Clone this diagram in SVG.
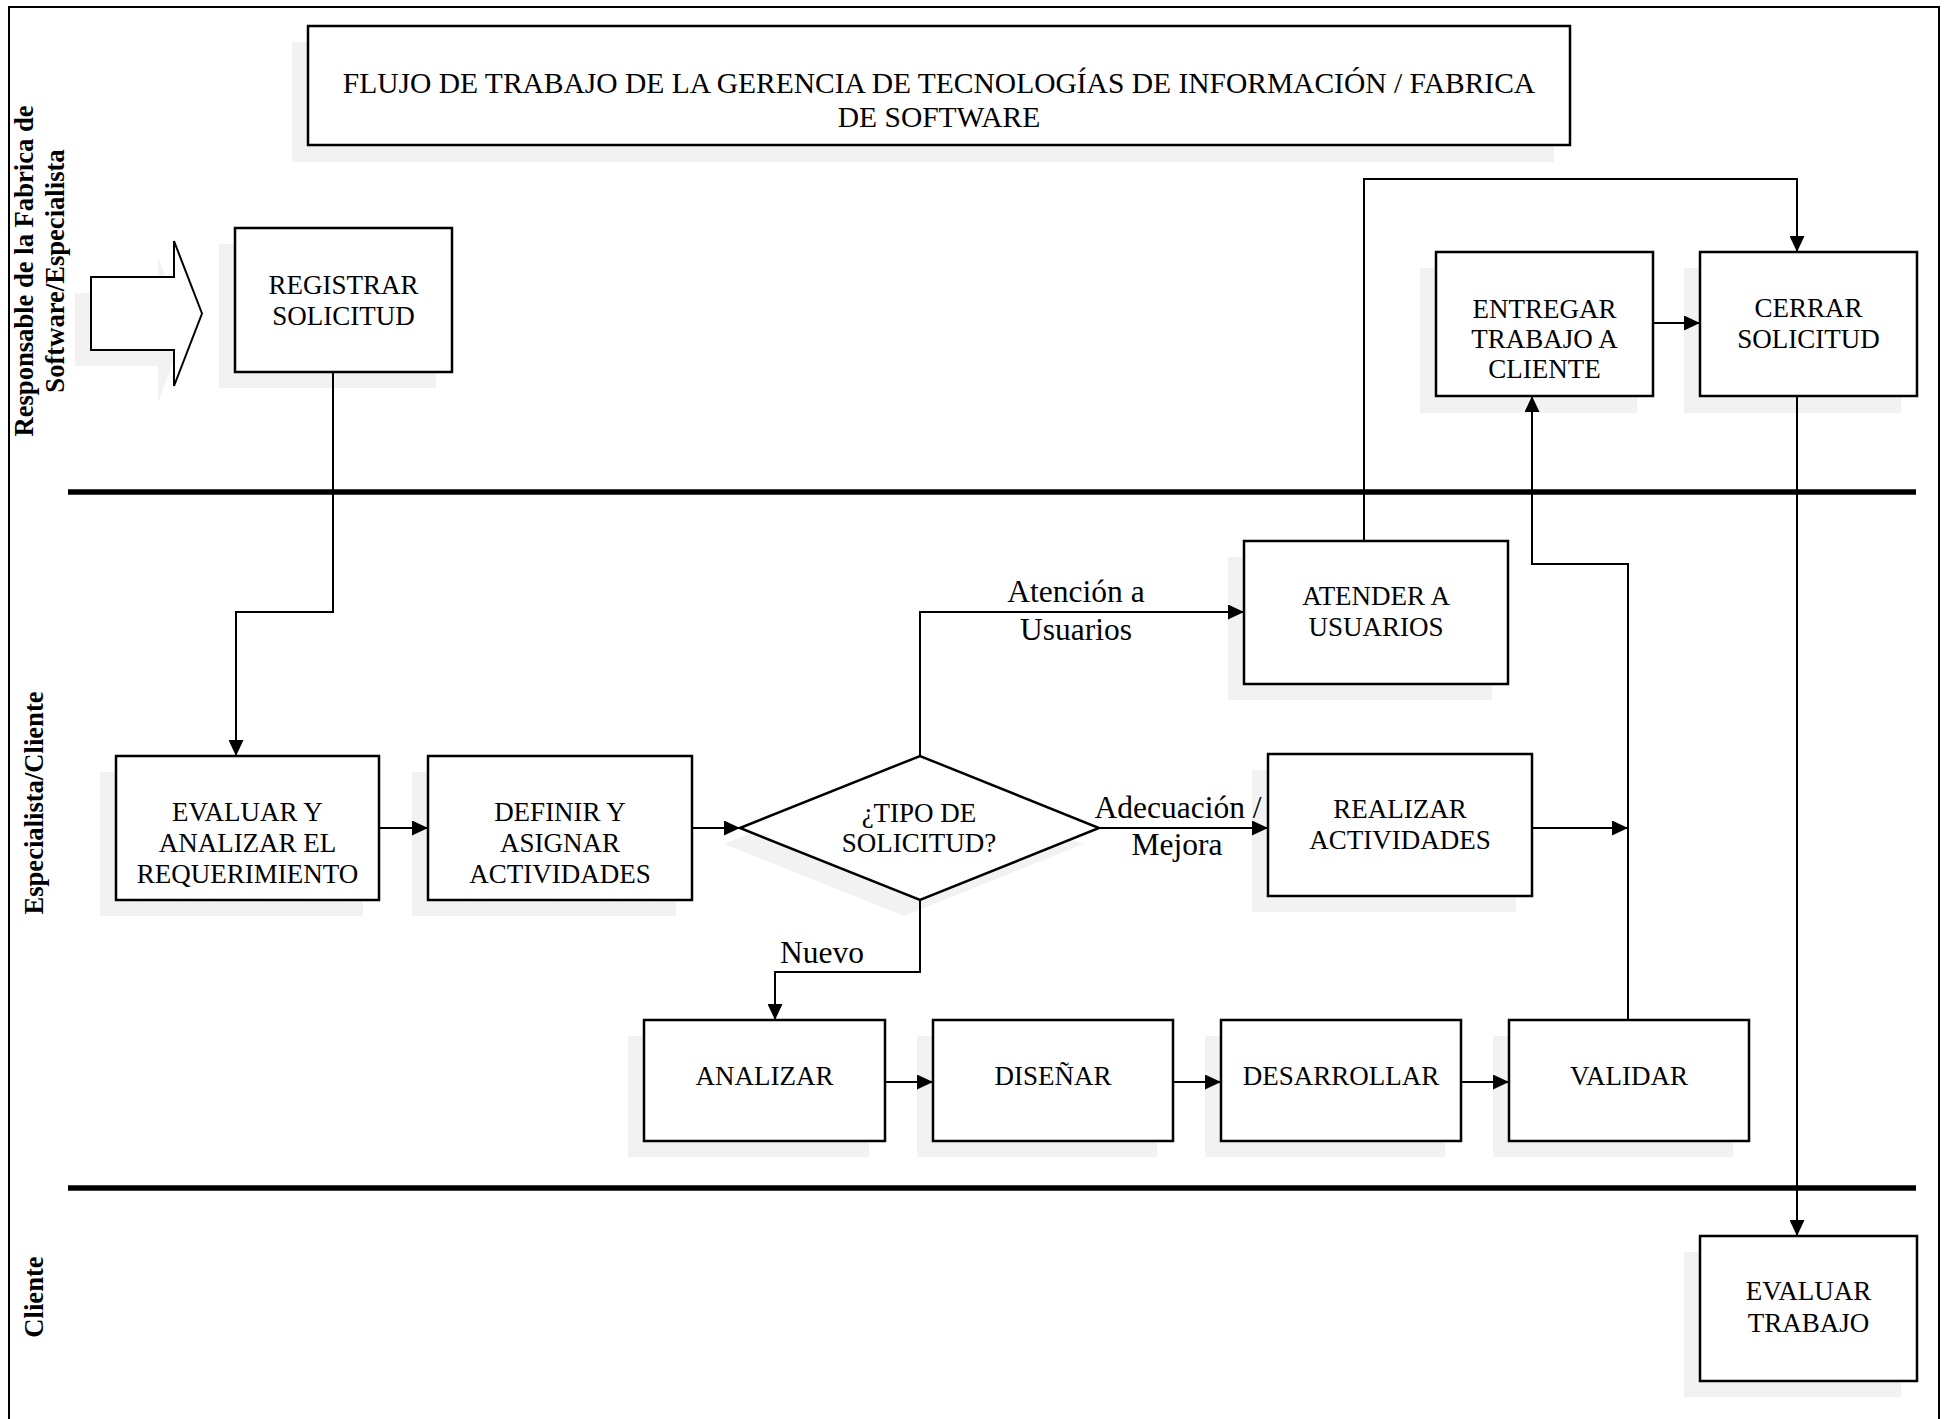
<svg xmlns="http://www.w3.org/2000/svg" width="1944" height="1419" viewBox="0 0 1944 1419">
<style>
.bg{fill:#fff}
.border{fill:none;stroke:#000;stroke-width:2}
.shadow{fill:#f2f2f2;stroke:none}
.box{fill:#fff;stroke:#000;stroke-width:2.5}
.t{font-family:"Liberation Serif","Times New Roman",serif;font-size:27px;text-anchor:middle;fill:#000}
.title{font-size:29.5px}
.lbl{font-size:31.5px}
.lane{font-family:"Liberation Serif","Times New Roman",serif;font-size:26.6px;font-weight:bold;text-anchor:middle;fill:#000}
.div{stroke:#000;stroke-width:5.5}
.conn{fill:none;stroke:#000;stroke-width:2}
.arr{marker-end:url(#ah)}
</style>
<defs>
<marker id="ah" markerUnits="userSpaceOnUse" markerWidth="16" markerHeight="15" refX="16" refY="7.5" orient="auto">
<path d="M0,0 L16,7.5 L0,15 z" fill="#000"/>
</marker>
</defs>
<rect class="bg" x="0" y="0" width="1944" height="1419"/>
<rect class="border" x="9" y="7" width="1930" height="1430"/>

<g id="title">
<rect class="shadow" x="292" y="42" width="1262" height="120"/>
<rect class="box" x="308" y="26" width="1262" height="119"/>
<text class="t title" x="939" y="93">FLUJO DE TRABAJO DE LA GERENCIA DE TECNOLOGÍAS DE INFORMACIÓN / FABRICA</text>
<text class="t title" x="939" y="127">DE SOFTWARE</text>
</g>

<g id="lanes">
<line class="div" x1="68" y1="492" x2="1916" y2="492"/>
<line class="div" x1="68" y1="1188" x2="1916" y2="1188"/>
<text class="lane" transform="translate(33,271) rotate(-90)">Responsable de la Fabrica de</text>
<text class="lane" transform="translate(64,271) rotate(-90)">Software/Especialista</text>
<text class="lane" transform="translate(43,803) rotate(-90)">Especialista/Cliente</text>
<text class="lane" transform="translate(43,1297) rotate(-90)">Cliente</text>
</g>

<g id="inicio">
<polygon class="shadow" points="75,293 158,293 158,257 186,329 158,402 158,366 75,366"/>
<polygon fill="#fff" stroke="#000" stroke-width="2" points="91,277 174,277 174,241 202,313.5 174,386 174,350 91,350"/>
</g>

<g id="registrar">
<rect class="shadow" x="219" y="244" width="217" height="144"/>
<rect class="box" x="235" y="228" width="217" height="144"/>
<text class="t" x="343.5" y="294">REGISTRAR</text>
<text class="t" x="343.5" y="325">SOLICITUD</text>
</g>

<g id="evaluar">
<rect class="shadow" x="100" y="772" width="263" height="144"/>
<rect class="box" x="116" y="756" width="263" height="144"/>
<text class="t" x="247.5" y="821">EVALUAR Y</text>
<text class="t" x="247.5" y="852">ANALIZAR EL</text>
<text class="t" x="247.5" y="883">REQUERIMIENTO</text>
</g>

<g id="definir">
<rect class="shadow" x="412" y="772" width="264" height="144"/>
<rect class="box" x="428" y="756" width="264" height="144"/>
<text class="t" x="560" y="821">DEFINIR Y</text>
<text class="t" x="560" y="852">ASIGNAR</text>
<text class="t" x="560" y="883">ACTIVIDADES</text>
</g>

<g id="tipo">
<polygon class="shadow" points="724,844 904,772 1083,844 904,916"/>
<polygon class="box" points="740,828 920,756 1099,828 920,900"/>
<text class="t" x="919" y="822">¿TIPO DE</text>
<text class="t" x="919" y="852">SOLICITUD?</text>
</g>

<g id="atender">
<rect class="shadow" x="1228" y="557" width="264" height="143"/>
<rect class="box" x="1244" y="541" width="264" height="143"/>
<text class="t" x="1376" y="605">ATENDER A</text>
<text class="t" x="1376" y="636">USUARIOS</text>
</g>

<g id="realizar">
<rect class="shadow" x="1252" y="770" width="264" height="142"/>
<rect class="box" x="1268" y="754" width="264" height="142"/>
<text class="t" x="1400" y="818">REALIZAR</text>
<text class="t" x="1400" y="849">ACTIVIDADES</text>
</g>

<g id="analizar">
<rect class="shadow" x="628" y="1036" width="241" height="121"/>
<rect class="box" x="644" y="1020" width="241" height="121"/>
<text class="t" x="764.5" y="1085">ANALIZAR</text>
</g>

<g id="disenar">
<rect class="shadow" x="917" y="1036" width="240" height="121"/>
<rect class="box" x="933" y="1020" width="240" height="121"/>
<text class="t" x="1053" y="1085">DISEÑAR</text>
</g>

<g id="desarrollar">
<rect class="shadow" x="1205" y="1036" width="240" height="121"/>
<rect class="box" x="1221" y="1020" width="240" height="121"/>
<text class="t" x="1341" y="1085">DESARROLLAR</text>
</g>

<g id="validar">
<rect class="shadow" x="1493" y="1036" width="240" height="121"/>
<rect class="box" x="1509" y="1020" width="240" height="121"/>
<text class="t" x="1629" y="1085">VALIDAR</text>
</g>

<g id="entregar">
<rect class="shadow" x="1420" y="268" width="217" height="145"/>
<rect class="box" x="1436" y="252" width="217" height="144"/>
<text class="t" x="1544.5" y="318">ENTREGAR</text>
<text class="t" x="1544.5" y="348">TRABAJO A</text>
<text class="t" x="1544.5" y="378">CLIENTE</text>
</g>

<g id="cerrar">
<rect class="shadow" x="1684" y="268" width="217" height="145"/>
<rect class="box" x="1700" y="252" width="217" height="144"/>
<text class="t" x="1808.5" y="317">CERRAR</text>
<text class="t" x="1808.5" y="348">SOLICITUD</text>
</g>

<g id="evaluar-trabajo">
<rect class="shadow" x="1684" y="1252" width="217" height="145"/>
<rect class="box" x="1700" y="1236" width="217" height="145"/>
<text class="t" x="1808.5" y="1300">EVALUAR</text>
<text class="t" x="1808.5" y="1332">TRABAJO</text>
</g>

<g id="connectors">
<path class="conn arr" d="M333,372 V612 H236 V756"/>
<path class="conn arr" d="M379,828 H428"/>
<path class="conn arr" d="M692,828 H740"/>
<path class="conn arr" d="M920,756 V612 H1244"/>
<path class="conn arr" d="M1099,828 H1268"/>
<path class="conn arr" d="M920,900 V972 H775 V1020"/>
<path class="conn arr" d="M885,1082 H933"/>
<path class="conn arr" d="M1173,1082 H1221"/>
<path class="conn arr" d="M1461,1082 H1509"/>
<path class="conn arr" d="M1532,828 H1628"/>
<path class="conn arr" d="M1628,1020 V564 H1532 V396"/>
<path class="conn arr" d="M1364,541 V179 H1797 V252"/>
<path class="conn arr" d="M1653,323 H1700"/>
<path class="conn arr" d="M1797,396 V1236"/>
<text class="t lbl" x="1076" y="602">Atención a</text>
<text class="t lbl" x="1076" y="640">Usuarios</text>
<text class="t lbl" x="1178" y="818">Adecuación /</text>
<text class="t lbl" x="1177" y="855">Mejora</text>
<text class="t lbl" x="822" y="963">Nuevo</text>
</g>
</svg>
